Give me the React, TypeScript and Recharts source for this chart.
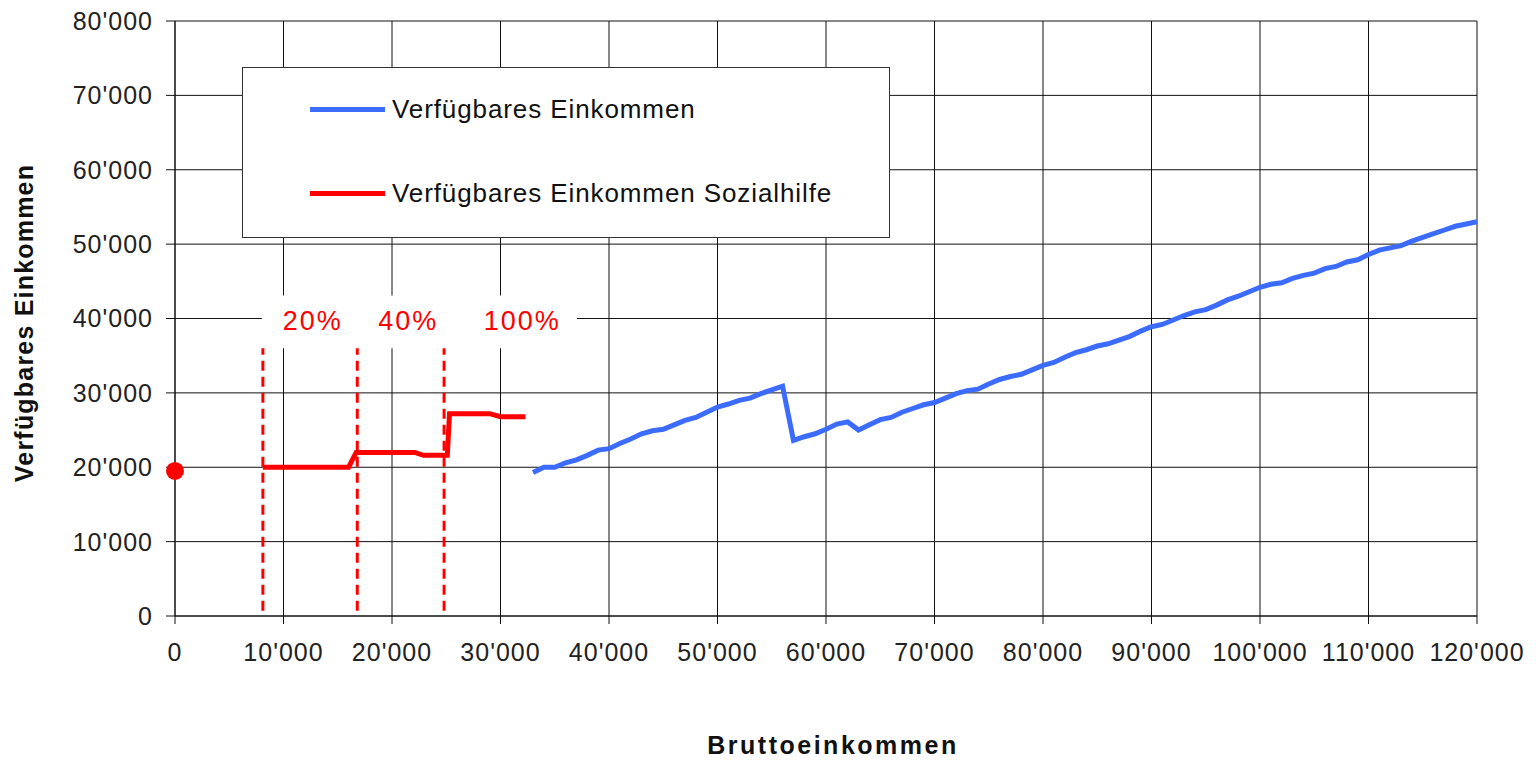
import React from 'react'
import {
  LineChart,
  Line,
  XAxis,
  YAxis,
  CartesianGrid,
  ReferenceLine,
  ReferenceArea,
  ReferenceDot,
} from 'recharts'

// gross income (x) for the "Verfügbares Einkommen" curve
const grossIncome = [
  33000, 34000, 35000, 36000, 37000, 38000, 39000, 40000, 41000, 42000,
  43000, 44000, 45000, 46000, 47000, 48000, 49000, 50000, 51000, 52000,
  53000, 54000, 55000, 56000, 57000, 58000, 59000, 60000, 61000, 62000,
  63000, 64000, 65000, 66000, 67000, 68000, 69000, 70000, 71000, 72000,
  73000, 74000, 75000, 76000, 77000, 78000, 79000, 80000, 81000, 82000,
  83000, 84000, 85000, 86000, 87000, 88000, 89000, 90000, 91000, 92000,
  93000, 94000, 95000, 96000, 97000, 98000, 99000, 100000, 101000, 102000,
  103000, 104000, 105000, 106000, 107000, 108000, 109000, 110000, 111000, 112000,
  113000, 114000, 115000, 116000, 117000, 118000, 119000, 120000,
]

const disposableIncome = [
  19300, 20000, 20000, 20600, 21000, 21600, 22300, 22500, 23200, 23800,
  24500, 24900, 25100, 25700, 26300, 26700, 27400, 28100, 28500, 29000,
  29300, 29900, 30400, 30900, 23600, 24100, 24500, 25100, 25800, 26100,
  25000, 25700, 26400, 26700, 27400, 27900, 28400, 28700, 29300, 29900,
  30300, 30500, 31200, 31800, 32200, 32500, 33100, 33700, 34100, 34800,
  35400, 35800, 36300, 36600, 37100, 37600, 38300, 38900, 39200, 39800,
  40400, 40900, 41200, 41800, 42500, 43000, 43600, 44200, 44600, 44800,
  45400, 45800, 46100, 46700, 47000, 47600, 47900, 48600, 49200, 49500,
  49800, 50400, 50900, 51400, 51900, 52400, 52700, 53000,
]

// social assistance curve
const welfareGross = [8100, 16000, 16700, 22100, 22900, 25100, 25300, 29000, 30000, 32300]
const welfareDisposable = [20000, 20000, 22000, 22000, 21600, 21600, 27200, 27200, 26800, 26800]
const welfareStart = { x: 0, y: 19500 }

// thresholds and their rate labels
const thresholdX = [8100, 16800, 24800]
const thresholdTop = 36000
const rateLabels = ['20%', '40%', '100%']
const rateLabelX = [12700, 21500, 32000]
const rateLabelY = 39800

const xTicks = [0, 10000, 20000, 30000, 40000, 50000, 60000, 70000, 80000, 90000, 100000, 110000, 120000]
const yTicks = [0, 10000, 20000, 30000, 40000, 50000, 60000, 70000, 80000]

const seriesNames = ['Verfügbares Einkommen', 'Verfügbares Einkommen Sozialhilfe']
const BLUE = '#3b6cff'
const RED = '#ff0000'
const FONT = '"Liberation Sans", Arial, sans-serif'

const incomeData = grossIncome.map((x, i) => ({ x, y: disposableIncome[i] }))
const welfareData = welfareGross.map((x, i) => ({ x, y: welfareDisposable[i] }))

const fmt = (v: number) => String(v).replace(/\B(?=(\d{3})+(?!\d))/g, "'")

function LegendBox() {
  const colors = [BLUE, RED]
  return (
    <div
      style={{
        position: 'absolute',
        left: 242,
        top: 67,
        width: 646,
        height: 169,
        border: '1.5px solid #333',
        background: '#fff',
        fontFamily: FONT,
      }}
    >
      {seriesNames.map((name, i) => (
        <div
          key={name}
          style={{
            position: 'absolute',
            left: 67,
            top: i === 0 ? 26 : 110,
            display: 'flex',
            alignItems: 'center',
          }}
        >
          <span style={{ display: 'inline-block', width: 75, height: 5, background: colors[i], marginRight: 7 }} />
          <span style={{ fontSize: 26, letterSpacing: 0.9, color: '#111' }}>{name}</span>
        </div>
      ))}
    </div>
  )
}

export default function App() {
  return (
    <div style={{ position: 'absolute', left: 0, top: 0, width: 1540, height: 760, background: '#fff' }}>
      <LineChart width={1540} height={760} margin={{ top: 21, right: 63, bottom: 0, left: 0 }}>
        <CartesianGrid stroke="#111" strokeWidth={1} />
        <XAxis
          type="number"
          dataKey="x"
          domain={[0, 120000]}
          ticks={xTicks}
          tickFormatter={fmt}
          height={144}
          tickSize={8}
          tickMargin={19}
          axisLine={{ stroke: '#111' }}
          tickLine={{ stroke: '#111' }}
          tick={{ fontSize: 25, fill: '#222', fontFamily: FONT, letterSpacing: 1 }}
          label={{
            content: () => (
              <text
                x={833}
                y={754}
                textAnchor="middle"
                fontFamily={FONT}
                fontWeight="bold"
                fontSize={25}
                letterSpacing={2.5}
                fill="#111"
              >
                Bruttoeinkommen
              </text>
            ),
          }}
        />
        <YAxis
          type="number"
          dataKey="y"
          domain={[0, 80000]}
          ticks={yTicks}
          tickFormatter={fmt}
          width={175}
          tickSize={9}
          tickMargin={13}
          axisLine={{ stroke: '#111' }}
          tickLine={{ stroke: '#111' }}
          tick={{ fontSize: 25, fill: '#222', fontFamily: FONT, letterSpacing: 1 }}
          label={{
            content: () => (
              <text
                x={33}
                y={323}
                transform="rotate(-90 33 323)"
                textAnchor="middle"
                fontFamily={FONT}
                fontWeight="bold"
                fontSize={25}
                letterSpacing={1.2}
                fill="#111"
              >
                Verfügbares Einkommen
              </text>
            ),
          }}
        />
        <ReferenceArea
          x1={8000}
          x2={37050}
          y1={36000}
          y2={43100}
          fill="#fff"
          fillOpacity={1}
          stroke="none"
        />
        {thresholdX.map((x) => (
          <ReferenceLine
            key={x}
            segment={[
              { x, y: 700 },
              { x, y: thresholdTop },
            ]}
            stroke={RED}
            strokeWidth={3}
            strokeDasharray="10 6"
          />
        ))}
        {rateLabels.map((t, i) => (
          <ReferenceDot
            key={t}
            x={rateLabelX[i]}
            y={rateLabelY}
            r={0}
            fill="none"
            stroke="none"
            label={{
              value: t,
              position: 'center',
              fill: RED,
              fontSize: 27,
              fontFamily: FONT,
              letterSpacing: 2,
            }}
          />
        ))}
        <Line
          data={welfareData}
          dataKey="y"
          type="linear"
          stroke={RED}
          strokeWidth={5}
          dot={false}
          isAnimationActive={false}
          name={seriesNames[1]}
        />
        <Line
          data={incomeData}
          dataKey="y"
          type="linear"
          stroke={BLUE}
          strokeWidth={5}
          dot={false}
          isAnimationActive={false}
          name={seriesNames[0]}
        />
        <ReferenceDot x={welfareStart.x} y={welfareStart.y} r={9} fill={RED} stroke="none" />
      </LineChart>
      <LegendBox />
    </div>
  )
}
